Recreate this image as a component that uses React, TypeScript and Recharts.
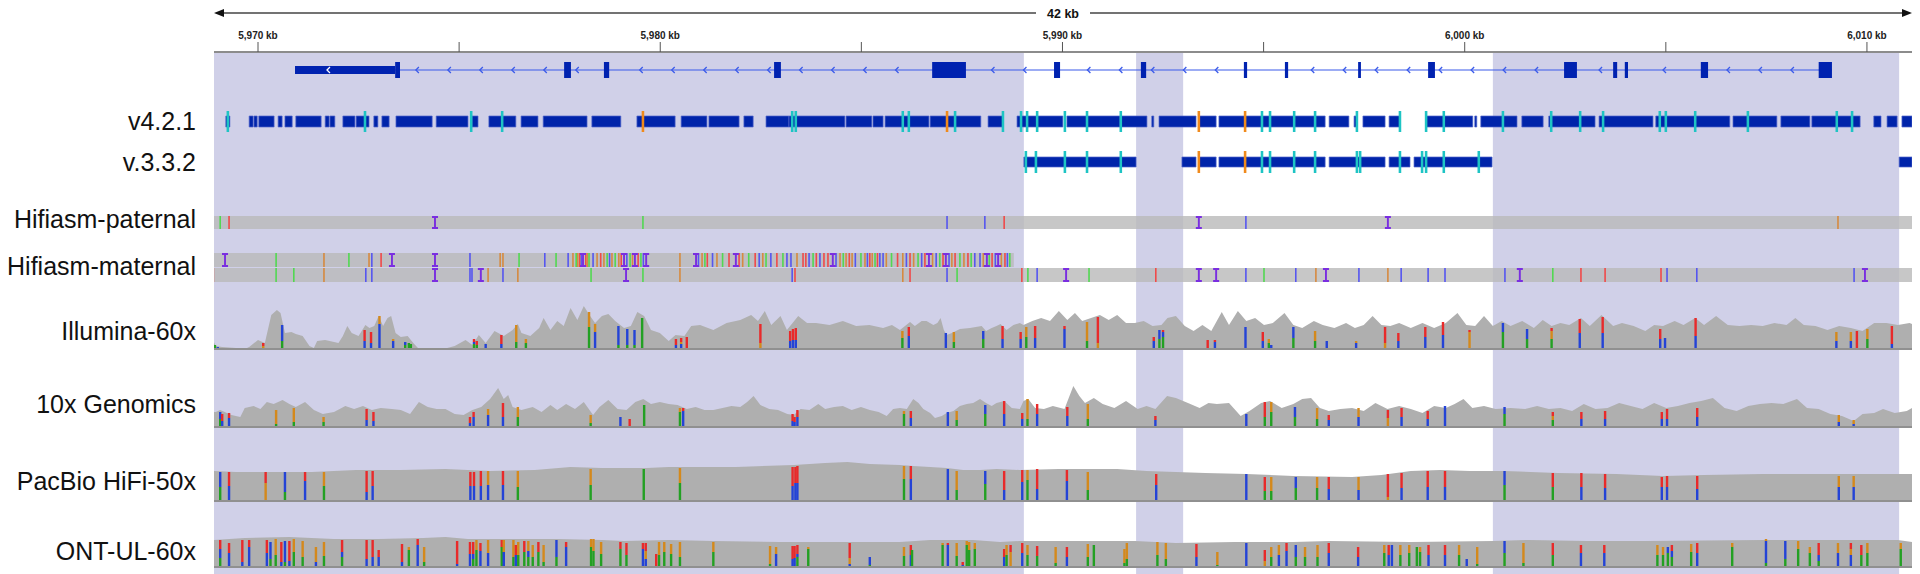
import React from 'react';
import { ComposedChart, Area, Scatter, XAxis, YAxis, ReferenceArea, ReferenceLine } from 'recharts';

const FONT = '"Liberation Sans", Arial, Helvetica, sans-serif';
const X0 = 5968.906;
const X1 = 6011.12;
const W = 1920;
const MARGIN = { top: 0, right: 8, bottom: 0, left: 214 };

// regions of interest (kb)
const roiRegions = [[5968.906, 5989.04], [5991.83, 5993.0], [6000.7, 6010.8]];
const rulerTicks = [5970, 5975, 5980, 5985, 5990, 5995, 6000, 6005, 6010];

const trackNames = ['v4.2.1', 'v.3.3.2', 'Hifiasm-paternal', 'Hifiasm-maternal', 'Illumina-60x', '10x Genomics', 'PacBio HiFi-50x', 'ONT-UL-60x'];

// gene model (kb)
const geneSpan = [5970.92, 6009.13];
const geneUtr = [[5970.92, 5973.41]];
const geneExons = [[5973.41, 5973.53], [5977.61, 5977.78], [5978.6, 5978.73], [5982.83, 5983.0], [5986.76, 5987.6], [5989.79, 5989.94], [5991.95, 5992.08], [5994.51, 5994.59], [5995.53, 5995.61], [5997.35, 5997.42], [5999.09, 5999.26], [6002.47, 6002.79], [6003.69, 6003.79], [6003.98, 6004.06], [6005.87, 6006.05], [6008.8, 6009.13]];

// assembly contig blocks and marks (c = cyan, o = orange)
const v421Blocks = [[5969.2, 5969.3], [5969.78, 5969.88], [5969.9, 5969.98], [5970.02, 5970.4], [5970.5, 5970.6], [5970.67, 5970.85], [5970.94, 5971.57], [5971.67, 5971.77], [5971.79, 5971.91], [5972.11, 5972.41], [5972.44, 5972.76], [5972.88, 5972.98], [5973.08, 5973.26], [5973.43, 5974.33], [5974.43, 5975.22], [5975.32, 5975.47], [5975.74, 5976.41], [5976.54, 5976.96], [5977.09, 5978.18], [5978.3, 5979.02], [5979.42, 5980.37], [5980.52, 5981.16], [5981.21, 5981.96], [5982.08, 5982.31], [5982.63, 5983.2], [5983.2, 5984.59], [5984.62, 5985.26], [5985.29, 5985.54], [5985.59, 5986.68], [5986.71, 5987.97], [5988.15, 5988.52], [5988.87, 5990.01], [5990.11, 5991.43], [5991.45, 5992.1], [5992.22, 5992.27], [5992.4, 5993.32], [5993.39, 5993.82], [5993.89, 5996.53], [5996.63, 5997.12], [5997.25, 5997.32], [5997.47, 5998.02], [5998.12, 5998.39], [5999.04, 6000.2], [6000.25, 6000.3], [6000.4, 6001.3], [6001.42, 6001.95], [6002.09, 6003.24], [6003.34, 6004.68], [6004.75, 6006.59], [6006.67, 6007.76], [6007.86, 6008.58], [6008.63, 6009.83], [6010.17, 6010.35], [6010.5, 6010.75], [6010.87, 6011.12]];
const v421Marks = [[5969.25, 'c'], [5972.66, 'c'], [5975.3, 'c'], [5976.07, 'c'], [5979.57, 'o'], [5983.28, 'c'], [5983.37, 'c'], [5986.03, 'c'], [5986.18, 'c'], [5987.13, 'o'], [5987.33, 'c'], [5988.52, 'c'], [5988.97, 'c'], [5989.12, 'c'], [5989.37, 'c'], [5990.06, 'c'], [5990.61, 'c'], [5991.45, 'c'], [5993.39, 'o'], [5994.54, 'o'], [5994.96, 'c'], [5995.16, 'c'], [5995.76, 'c'], [5996.28, 'c'], [5997.32, 'c'], [5998.39, 'c'], [5999.04, 'c'], [5999.48, 'c'], [6000.95, 'c'], [6002.15, 'c'], [6002.87, 'c'], [6003.44, 'c'], [6004.85, 'c'], [6005.0, 'c'], [6005.73, 'c'], [6007.04, 'c'], [6009.25, 'c'], [6009.63, 'c']];
const v332Blocks = [[5989.04, 5991.83], [5992.97, 5993.32], [5993.39, 5993.82], [5993.89, 5996.53], [5996.63, 5998.02], [5998.12, 5998.64], [5998.74, 6000.68], [6010.8, 6011.12]];
const v332Marks = [[5989.09, 'c'], [5989.34, 'c'], [5990.06, 'c'], [5990.61, 'c'], [5991.45, 'c'], [5993.39, 'o'], [5994.54, 'o'], [5994.96, 'c'], [5995.16, 'c'], [5995.76, 'c'], [5996.28, 'c'], [5997.32, 'c'], [5997.4, 'c'], [5998.39, 'c'], [5998.94, 'c'], [5999.04, 'c'], [5999.48, 'c'], [6000.35, 'c']];

// hifiasm contig variants (I = insertion)
const paternalSpan = [5968.83, 6011.12];
const paternalVariants = [[5969.06, 'A'], [5969.28, 'T'], [5974.4, 'I'], [5979.57, 'A'], [5987.13, 'C'], [5988.07, 'C'], [5988.55, 'T'], [5993.39, 'I'], [5994.56, 'C'], [5998.09, 'I'], [6009.28, 'G']];
const maternalTopSpan = [5968.83, 5988.79];
const maternalTopVariants = [[5969.18, 'I'], [5970.45, 'A'], [5971.64, 'G'], [5972.26, 'A'], [5972.76, 'G'], [5972.83, 'C'], [5973.06, 'T'], [5973.33, 'I'], [5974.4, 'I'], [5975.27, 'C'], [5976.02, 'G'], [5976.09, 'G'], [5976.49, 'A'], [5977.13, 'C'], [5977.41, 'A'], [5977.71, 'C'], [5977.83, 'G'], [5977.91, 'A'], [5977.95, 'G'], [5978.0, 'T'], [5978.04, 'C'], [5978.08, 'I'], [5978.15, 'T'], [5978.19, 'G'], [5978.23, 'A'], [5978.33, 'C'], [5978.43, 'G'], [5978.52, 'T'], [5978.6, 'G'], [5978.68, 'A'], [5978.74, 'C'], [5978.8, 'G'], [5978.88, 'A'], [5978.97, 'G'], [5979.03, 'T'], [5979.1, 'I'], [5979.17, 'C'], [5979.25, 'A'], [5979.31, 'G'], [5979.37, 'I'], [5979.45, 'T'], [5979.52, 'A'], [5979.58, 'C'], [5979.65, 'I'], [5980.49, 'G'], [5980.89, 'I'], [5980.95, 'C'], [5981.04, 'G'], [5981.11, 'A'], [5981.17, 'T'], [5981.3, 'C'], [5981.41, 'G'], [5981.55, 'A'], [5981.71, 'T'], [5981.88, 'I'], [5981.96, 'T'], [5982.05, 'G'], [5982.2, 'A'], [5982.36, 'T'], [5982.46, 'C'], [5982.55, 'G'], [5982.63, 'A'], [5982.75, 'C'], [5982.9, 'T'], [5983.05, 'A'], [5983.15, 'C'], [5983.25, 'C'], [5983.4, 'G'], [5983.55, 'T'], [5983.62, 'T'], [5983.7, 'C'], [5983.8, 'A'], [5983.88, 'T'], [5983.97, 'C'], [5984.07, 'T'], [5984.17, 'T'], [5984.29, 'I'], [5984.37, 'C'], [5984.47, 'G'], [5984.55, 'A'], [5984.62, 'G'], [5984.7, 'T'], [5984.77, 'G'], [5984.85, 'C'], [5984.99, 'A'], [5985.09, 'G'], [5985.15, 'C'], [5985.21, 'T'], [5985.27, 'G'], [5985.34, 'A'], [5985.4, 'T'], [5985.46, 'C'], [5985.54, 'C'], [5985.62, 'G'], [5985.75, 'A'], [5985.9, 'T'], [5986.03, 'G'], [5986.12, 'C'], [5986.21, 'T'], [5986.3, 'G'], [5986.41, 'A'], [5986.5, 'C'], [5986.58, 'T'], [5986.68, 'I'], [5986.77, 'G'], [5986.86, 'C'], [5986.95, 'A'], [5987.03, 'T'], [5987.1, 'I'], [5987.18, 'C'], [5987.25, 'G'], [5987.33, 'T'], [5987.45, 'A'], [5987.55, 'G'], [5987.65, 'T'], [5987.73, 'A'], [5987.82, 'C'], [5987.95, 'C'], [5988.03, 'G'], [5988.12, 'I'], [5988.18, 'A'], [5988.25, 'T'], [5988.33, 'C'], [5988.4, 'I'], [5988.48, 'G'], [5988.57, 'T'], [5988.63, 'C'], [5988.69, 'A']];
const maternalBottomSpan = [5968.83, 6011.12];
const maternalBottomVariants = [[5968.89, 'T'], [5970.45, 'A'], [5970.89, 'A'], [5971.64, 'G'], [5972.68, 'C'], [5972.83, 'C'], [5974.4, 'I'], [5975.27, 'C'], [5975.32, 'C'], [5975.54, 'I'], [5975.72, 'G'], [5976.09, 'C'], [5976.46, 'G'], [5978.28, 'A'], [5979.15, 'I'], [5979.57, 'A'], [5980.49, 'G'], [5983.28, 'C'], [5983.35, 'T'], [5986.03, 'G'], [5986.21, 'T'], [5987.13, 'C'], [5987.38, 'A'], [5988.99, 'T'], [5989.14, 'A'], [5989.37, 'C'], [5990.09, 'I'], [5990.66, 'A'], [5992.32, 'T'], [5993.39, 'I'], [5993.82, 'I'], [5994.56, 'C'], [5995.01, 'A'], [5995.8, 'C'], [5996.3, 'G'], [5996.55, 'I'], [5997.37, 'C'], [5998.09, 'G'], [5998.42, 'C'], [5999.09, 'C'], [5999.51, 'C'], [6001.0, 'C'], [6001.37, 'I'], [6002.19, 'A'], [6002.89, 'T'], [6003.49, 'T'], [6004.88, 'T'], [6005.03, 'C'], [6005.77, 'C'], [6009.68, 'C'], [6009.95, 'I']];

// coverage [kb, depth]
const illuminaCov = [[5968.87, 10], [5968.95, 3], [5969.11, 2], [5969.45, 1], [5969.67, 0], [5969.78, 2], [5970.0, 9], [5970.17, 6], [5970.33, 34], [5970.47, 39], [5970.56, 36], [5970.67, 16], [5970.83, 17], [5970.94, 15], [5971.11, 13], [5971.28, 3], [5971.39, 1], [5971.47, 8], [5971.67, 9], [5972.0, 6], [5972.11, 13], [5972.22, 23], [5972.33, 16], [5972.5, 13], [5972.67, 24], [5972.77, 21], [5972.89, 23], [5973.0, 33], [5973.11, 23], [5973.22, 31], [5973.31, 33], [5973.42, 16], [5973.55, 12], [5973.72, 13], [5973.86, 6], [5974.0, 0], [5974.61, 0], [5974.89, 3], [5975.16, 9], [5975.33, 4], [5975.49, 14], [5975.66, 6], [5975.88, 18], [5976.11, 13], [5976.33, 19], [5976.46, 25], [5976.55, 16], [5976.77, 13], [5976.99, 21], [5977.1, 31], [5977.27, 19], [5977.44, 28], [5977.6, 23], [5977.77, 41], [5977.94, 29], [5978.1, 43], [5978.24, 34], [5978.38, 26], [5978.55, 33], [5978.71, 35], [5978.88, 28], [5979.1, 21], [5979.27, 23], [5979.43, 37], [5979.6, 33], [5979.77, 19], [5979.99, 16], [5980.21, 8], [5980.38, 14], [5980.6, 13], [5980.77, 23], [5980.99, 24], [5981.32, 19], [5981.65, 26], [5981.99, 29], [5982.26, 34], [5982.43, 28], [5982.6, 38], [5982.76, 24], [5982.99, 33], [5983.15, 19], [5983.43, 33], [5983.65, 26], [5983.87, 26], [5984.21, 24], [5984.54, 28], [5984.87, 23], [5985.2, 24], [5985.54, 21], [5985.76, 24], [5985.96, 19], [5986.21, 27], [5986.33, 23], [5986.5, 28], [5986.62, 28], [5986.79, 24], [5986.89, 26], [5986.97, 31], [5987.05, 19], [5987.12, 14], [5987.25, 16], [5987.45, 20], [5987.7, 21], [5987.99, 23], [5988.1, 18], [5988.24, 21], [5988.36, 23], [5988.46, 25], [5988.61, 19], [5988.78, 24], [5988.94, 26], [5989.03, 24], [5989.25, 28], [5989.47, 31], [5989.69, 28], [5989.91, 38], [5990.12, 29], [5990.31, 36], [5990.49, 28], [5990.71, 31], [5990.93, 34], [5991.15, 29], [5991.36, 34], [5991.58, 26], [5991.8, 26], [5992.02, 28], [5992.24, 23], [5992.46, 24], [5992.61, 31], [5992.82, 33], [5993.04, 23], [5993.26, 18], [5993.48, 24], [5993.7, 18], [5993.96, 37], [5994.14, 24], [5994.36, 38], [5994.57, 28], [5994.79, 31], [5995.01, 24], [5995.23, 26], [5995.52, 36], [5995.74, 24], [5995.96, 21], [5996.25, 28], [5996.47, 24], [5996.76, 21], [5997.05, 26], [5997.27, 21], [5997.49, 24], [5997.71, 33], [5997.93, 24], [5998.15, 23], [5998.37, 26], [5998.66, 21], [5998.95, 26], [5999.24, 21], [5999.53, 26], [5999.82, 36], [6000.04, 24], [6000.26, 23], [6000.48, 33], [6000.7, 23], [6000.92, 28], [6001.14, 23], [6001.43, 28], [6001.72, 21], [6001.94, 29], [6002.16, 23], [6002.38, 26], [6002.6, 24], [6002.89, 31], [6003.11, 23], [6003.4, 34], [6003.69, 23], [6003.91, 26], [6004.2, 23], [6004.49, 18], [6004.71, 24], [6004.93, 23], [6005.22, 28], [6005.44, 24], [6005.73, 31], [6005.95, 24], [6006.25, 33], [6006.54, 24], [6006.83, 23], [6007.12, 24], [6007.41, 23], [6007.7, 26], [6008.0, 24], [6008.22, 31], [6008.43, 24], [6008.72, 23], [6009.02, 19], [6009.31, 23], [6009.6, 21], [6009.89, 18], [6010.18, 26], [6010.48, 26], [6010.77, 24], [6011.06, 26], [6011.12, 25]];
const tenxCov = [[5968.9, 15], [5968.95, 15], [5969.06, 17], [5969.34, 12], [5969.56, 10], [5969.67, 19], [5969.89, 21], [5970.06, 18], [5970.22, 25], [5970.39, 23], [5970.61, 27], [5970.78, 23], [5970.94, 20], [5971.17, 25], [5971.39, 17], [5971.61, 13], [5971.89, 15], [5972.17, 21], [5972.39, 18], [5972.61, 21], [5972.83, 17], [5973.05, 19], [5973.33, 18], [5973.55, 17], [5973.78, 13], [5974.0, 25], [5974.22, 20], [5974.44, 18], [5974.66, 18], [5974.89, 13], [5975.11, 12], [5975.33, 17], [5975.55, 20], [5975.77, 28], [5975.97, 39], [5976.11, 28], [5976.22, 32], [5976.33, 20], [5976.55, 17], [5976.83, 20], [5977.05, 15], [5977.27, 22], [5977.44, 17], [5977.66, 23], [5977.88, 18], [5978.1, 25], [5978.33, 12], [5978.49, 20], [5978.71, 27], [5978.94, 18], [5979.16, 17], [5979.38, 25], [5979.58, 28], [5979.77, 23], [5979.99, 25], [5980.21, 23], [5980.43, 22], [5980.66, 18], [5980.88, 20], [5981.1, 17], [5981.32, 17], [5981.55, 19], [5981.77, 21], [5981.99, 20], [5982.16, 25], [5982.32, 31], [5982.49, 22], [5982.71, 18], [5982.93, 17], [5983.16, 13], [5983.32, 12], [5983.49, 18], [5983.71, 17], [5983.93, 23], [5984.1, 18], [5984.32, 20], [5984.54, 21], [5984.76, 17], [5984.99, 20], [5985.21, 17], [5985.43, 15], [5985.63, 11], [5985.79, 18], [5985.96, 19], [5986.13, 18], [5986.29, 28], [5986.42, 24], [5986.54, 18], [5986.71, 14], [5986.83, 9], [5987.0, 11], [5987.12, 14], [5987.29, 16], [5987.45, 21], [5987.62, 23], [5987.78, 24], [5987.95, 28], [5988.1, 24], [5988.24, 21], [5988.36, 24], [5988.55, 26], [5988.74, 19], [5988.94, 18], [5989.03, 26], [5989.15, 28], [5989.32, 19], [5989.54, 18], [5989.76, 21], [5990.05, 18], [5990.27, 41], [5990.42, 31], [5990.56, 24], [5990.78, 29], [5991.0, 23], [5991.29, 19], [5991.58, 26], [5991.87, 18], [5992.09, 21], [5992.31, 18], [5992.6, 31], [5992.82, 29], [5993.12, 24], [5993.41, 19], [5993.63, 24], [5993.84, 23], [5994.14, 24], [5994.43, 11], [5994.65, 16], [5994.94, 24], [5995.16, 26], [5995.45, 19], [5995.74, 23], [5995.96, 28], [5996.18, 29], [5996.4, 19], [5996.62, 16], [5996.91, 18], [5997.2, 19], [5997.49, 16], [5997.78, 24], [5998.08, 18], [5998.37, 21], [5998.66, 18], [5998.95, 14], [5999.24, 21], [5999.53, 19], [5999.75, 23], [5999.97, 28], [6000.19, 19], [6000.48, 21], [6000.77, 18], [6001.14, 19], [6001.5, 18], [6001.8, 21], [6002.09, 18], [6002.38, 19], [6002.67, 16], [6002.96, 23], [6003.25, 18], [6003.55, 19], [6003.84, 24], [6004.13, 21], [6004.42, 18], [6004.71, 24], [6005.01, 19], [6005.3, 21], [6005.59, 24], [6005.88, 26], [6006.17, 29], [6006.46, 19], [6006.76, 16], [6007.05, 21], [6007.34, 23], [6007.63, 24], [6007.92, 23], [6008.26, 28], [6008.51, 19], [6008.8, 18], [6009.09, 13], [6009.38, 11], [6009.67, 6], [6009.89, 13], [6010.18, 14], [6010.4, 18], [6010.69, 14], [6010.99, 16], [6011.12, 19]];
const pacbioCov = [[5968.9, 30], [5969.45, 29], [5970.22, 29], [5971.33, 29], [5972.44, 31], [5973.55, 31], [5974.66, 32], [5975.77, 30], [5976.88, 31], [5977.77, 34], [5978.55, 33], [5979.66, 33], [5980.21, 34], [5981.88, 34], [5983.32, 36], [5984.1, 38], [5984.65, 39], [5985.21, 37], [5985.96, 36], [5986.29, 35], [5986.71, 34], [5987.12, 33], [5987.53, 31], [5987.95, 31], [5988.36, 32], [5988.94, 31], [5989.91, 32], [5991.36, 32], [5992.09, 30], [5992.82, 29], [5993.55, 28], [5994.57, 27], [5995.74, 25], [5997.2, 24], [5997.93, 26], [5998.66, 30], [5999.39, 31], [6000.12, 30], [6000.99, 30], [6002.31, 28], [6003.77, 27], [6004.93, 25], [6005.95, 26], [6007.41, 27], [6008.87, 27], [6010.33, 27], [6011.12, 27]];
const ontCov = [[5968.9, 27], [5969.67, 29], [5970.78, 30], [5971.89, 28], [5973.0, 28], [5974.11, 29], [5974.66, 30], [5975.22, 28], [5976.33, 28], [5977.44, 28], [5978.55, 27], [5979.1, 26], [5980.21, 27], [5981.32, 26], [5982.99, 25], [5984.65, 25], [5985.96, 25], [5986.71, 27], [5987.78, 27], [5988.45, 25], [5988.94, 26], [5990.63, 26], [5991.8, 26], [5992.82, 24], [5994.28, 25], [5995.74, 25], [5996.62, 26], [5998.66, 25], [6000.7, 26], [6001.58, 27], [6003.04, 26], [6004.49, 26], [6007.41, 27], [6008.87, 27], [6010.77, 27], [6011.12, 25]];

// mismatched bases [kb, A, C, G, T]
const illuminaSnv = [[5968.93, 4, 0, 0, 0], [5969.0, 0, 2, 0, 0], [5970.13, 0, 0, 3, 3], [5970.6, 8, 16, 0, 0], [5971.3, 0, 0, 0, 1], [5972.65, 0, 8, 0, 11], [5972.81, 0, 6, 0, 11], [5973.02, 0, 25, 8, 0], [5973.36, 0, 8, 2, 0], [5973.66, 4, 3, 0, 0], [5973.75, 6, 0, 0, 0], [5973.8, 5, 0, 0, 0], [5975.37, 5, 2, 0, 3], [5975.44, 4, 0, 0, 4], [5975.66, 0, 5, 0, 0], [5976.05, 0, 5, 0, 9], [5976.42, 7, 0, 17, 0], [5976.66, 6, 0, 4, 0], [5978.23, 22, 0, 15, 0], [5978.38, 0, 17, 8, 0], [5978.96, 4, 19, 0, 0], [5979.18, 4, 16, 0, 0], [5979.36, 4, 15, 0, 0], [5979.55, 31, 0, 0, 0], [5980.39, 0, 4, 0, 6], [5980.52, 0, 5, 2, 4], [5980.66, 0, 0, 0, 12], [5982.49, 0, 0, 6, 19], [5983.23, 0, 8, 0, 10], [5983.3, 0, 9, 0, 11], [5983.37, 0, 9, 0, 12], [5986.02, 11, 0, 7, 0], [5986.18, 0, 13, 0, 9], [5987.1, 0, 16, 0, 0], [5987.3, 7, 0, 10, 0], [5988.03, 10, 8, 0, 0], [5988.51, 0, 10, 0, 13], [5988.96, 0, 10, 0, 7], [5989.1, 12, 0, 10, 0], [5989.32, 0, 11, 0, 12], [5990.05, 0, 20, 0, 3], [5990.61, 8, 0, 19, 0], [5990.88, 0, 0, 6, 26], [5992.27, 0, 8, 0, 4], [5992.41, 10, 9, 0, 0], [5992.5, 12, 5, 0, 2], [5993.61, 0, 0, 0, 9], [5993.79, 0, 7, 0, 2], [5994.55, 0, 22, 0, 0], [5994.98, 0, 8, 0, 9], [5995.13, 6, 0, 4, 0], [5995.19, 0, 4, 0, 0], [5995.74, 11, 11, 0, 0], [5996.28, 8, 0, 10, 0], [5996.57, 0, 8, 0, 0], [5997.3, 0, 6, 2, 0], [5998.02, 0, 0, 6, 16], [5998.35, 0, 8, 0, 8], [5999.02, 0, 12, 0, 10], [5999.46, 0, 14, 0, 13], [6000.12, 0, 0, 17, 2], [6000.95, 17, 9, 0, 0], [6001.55, 10, 10, 0, 0], [6002.16, 10, 0, 8, 3], [6002.86, 0, 16, 0, 14], [6003.43, 0, 16, 0, 16], [6004.86, 0, 10, 0, 10], [6004.98, 0, 11, 0, 0], [6005.74, 0, 13, 0, 18], [6009.24, 0, 8, 9, 0], [6009.6, 0, 8, 9, 0], [6009.75, 0, 0, 0, 18], [6010.01, 10, 0, 10, 0], [6010.62, 0, 5, 0, 18]];
const tenxSnv = [[5969.06, 8, 7, 0, 0], [5969.11, 0, 6, 0, 7], [5969.28, 0, 9, 0, 5], [5970.45, 3, 0, 14, 0], [5970.89, 5, 0, 14, 0], [5971.63, 5, 0, 5, 0], [5972.7, 0, 7, 0, 11], [5972.87, 0, 6, 0, 9], [5975.27, 0, 4, 0, 6], [5975.36, 0, 10, 0, 5], [5975.72, 0, 12, 6, 0], [5976.09, 0, 10, 0, 14], [5976.46, 10, 0, 10, 0], [5978.27, 4, 0, 8, 0], [5979.01, 0, 10, 0, 0], [5979.24, 0, 0, 0, 8], [5979.6, 22, 0, 0, 0], [5980.49, 15, 0, 4, 0], [5980.57, 0, 16, 0, 3], [5983.29, 0, 6, 0, 7], [5983.34, 0, 5, 0, 5], [5983.41, 0, 10, 0, 7], [5986.06, 13, 0, 3, 0], [5986.23, 0, 9, 0, 7], [5987.15, 0, 15, 0, 0], [5987.37, 7, 0, 9, 0], [5988.08, 13, 9, 0, 0], [5988.55, 0, 13, 0, 13], [5989.0, 0, 8, 0, 6], [5989.13, 8, 0, 20, 0], [5989.37, 0, 13, 0, 10], [5990.12, 0, 11, 0, 9], [5990.63, 8, 0, 15, 0], [5992.31, 0, 7, 0, 4], [5994.57, 0, 13, 0, 0], [5995.03, 10, 0, 0, 15], [5995.19, 15, 0, 10, 0], [5995.78, 10, 10, 0, 0], [5996.33, 8, 0, 11, 0], [5996.62, 0, 7, 0, 5], [5997.36, 0, 10, 9, 0], [5998.09, 0, 0, 9, 8], [5998.43, 0, 10, 0, 9], [5999.08, 0, 8, 0, 8], [5999.51, 0, 21, 0, 0], [6000.99, 13, 7, 0, 0], [6002.19, 7, 0, 4, 4], [6002.9, 0, 8, 0, 7], [6003.49, 0, 8, 0, 8], [6004.9, 0, 8, 0, 7], [6005.03, 0, 8, 0, 10], [6005.78, 0, 10, 0, 9], [6009.3, 0, 5, 7, 0], [6009.67, 0, 3, 4, 0]];
const pacbioSnv = [[5969.06, 14, 15, 0, 0], [5969.28, 0, 15, 0, 14], [5970.19, 0, 0, 18, 11], [5970.67, 9, 20, 0, 0], [5971.17, 0, 20, 0, 9], [5971.64, 15, 0, 14, 0], [5972.7, 0, 9, 0, 21], [5972.85, 0, 15, 0, 15], [5975.28, 0, 15, 0, 14], [5975.37, 0, 15, 0, 14], [5975.54, 0, 15, 0, 15], [5975.72, 0, 16, 14, 0], [5976.09, 0, 16, 0, 14], [5976.46, 14, 0, 16, 0], [5978.27, 16, 0, 16, 0], [5979.59, 32, 0, 0, 0], [5980.49, 18, 0, 15, 0], [5983.29, 0, 15, 0, 19], [5983.36, 0, 18, 0, 16], [5983.41, 0, 18, 0, 17], [5986.06, 22, 0, 13, 0], [5986.23, 0, 22, 0, 13], [5987.15, 0, 32, 0, 0], [5987.37, 11, 0, 19, 0], [5988.08, 17, 13, 0, 0], [5988.55, 0, 11, 0, 19], [5989.0, 0, 19, 0, 12], [5989.13, 21, 0, 10, 0], [5989.37, 0, 12, 0, 20], [5990.11, 0, 20, 0, 11], [5990.63, 11, 0, 18, 0], [5992.33, 0, 16, 0, 11], [5994.57, 0, 27, 0, 0], [5995.03, 10, 0, 0, 14], [5995.19, 10, 0, 14, 0], [5995.8, 13, 11, 0, 0], [5996.33, 13, 0, 11, 0], [5996.62, 0, 12, 0, 12], [5997.36, 0, 11, 13, 0], [5998.09, 0, 0, 4, 23], [5998.43, 0, 13, 0, 15], [5999.08, 0, 14, 0, 16], [5999.51, 0, 14, 0, 16], [6000.99, 16, 14, 0, 0], [6002.19, 14, 0, 0, 14], [6002.9, 0, 14, 0, 14], [6003.49, 0, 13, 0, 14], [6004.9, 0, 14, 0, 10], [6005.03, 0, 14, 0, 11], [6005.78, 0, 12, 0, 13], [6009.3, 0, 14, 11, 0], [6009.67, 0, 14, 11, 0]];
const ontSnv = [[5969.06, 9, 9, 0, 9], [5969.28, 0, 14, 0, 10], [5969.61, 0, 5, 0, 22], [5969.78, 0, 20, 0, 7], [5970.22, 0, 14, 0, 13], [5970.31, 8, 17, 0, 0], [5970.44, 12, 0, 16, 0], [5970.58, 0, 5, 0, 20], [5970.67, 5, 21, 0, 0], [5970.78, 0, 6, 0, 20], [5970.89, 15, 0, 13, 0], [5971.11, 10, 0, 16, 0], [5971.44, 0, 5, 15, 0], [5971.64, 11, 0, 14, 0], [5972.09, 10, 5, 0, 12], [5972.7, 0, 8, 0, 19], [5972.85, 0, 10, 0, 17], [5973.0, 0, 10, 0, 7], [5973.58, 0, 5, 0, 18], [5973.75, 17, 0, 3, 0], [5973.97, 0, 22, 0, 6], [5974.13, 5, 0, 15, 0], [5974.95, 0, 3, 0, 23], [5975.27, 0, 13, 0, 12], [5975.35, 8, 5, 0, 12], [5975.43, 17, 0, 10, 0], [5975.53, 0, 16, 0, 8], [5975.72, 0, 14, 13, 0], [5976.06, 20, 0, 0, 7], [5976.11, 0, 15, 12, 0], [5976.35, 10, 0, 17, 0], [5976.41, 0, 12, 0, 10], [5976.47, 12, 0, 13, 0], [5976.62, 15, 0, 0, 11], [5976.72, 10, 6, 10, 0], [5976.83, 10, 0, 12, 0], [5976.97, 15, 0, 0, 10], [5977.1, 5, 0, 17, 0], [5977.42, 10, 17, 0, 0], [5977.66, 0, 20, 0, 5], [5978.28, 20, 0, 8, 0], [5978.34, 16, 0, 12, 0], [5978.53, 13, 0, 12, 0], [5979.01, 18, 0, 0, 7], [5979.16, 12, 0, 0, 12], [5979.57, 0, 18, 0, 6], [5979.64, 0, 8, 8, 8], [5979.9, 0, 0, 0, 13], [5979.97, 12, 0, 13, 0], [5980.1, 15, 0, 10, 0], [5980.27, 13, 0, 10, 0], [5980.49, 10, 0, 15, 0], [5981.32, 15, 0, 10, 0], [5982.73, 3, 0, 18, 0], [5982.88, 0, 13, 7, 0], [5983.29, 0, 8, 0, 13], [5983.34, 0, 9, 0, 12], [5983.41, 10, 3, 0, 9], [5983.68, 18, 0, 2, 0], [5984.71, 0, 3, 6, 15], [5985.21, 2, 8, 0, 0], [5986.06, 11, 0, 9, 0], [5986.23, 0, 12, 0, 10], [5986.26, 17, 0, 0, 0], [5987.02, 22, 0, 2, 0], [5987.15, 0, 22, 0, 2], [5987.37, 11, 0, 13, 0], [5987.52, 0, 2, 0, 3], [5987.62, 22, 0, 4, 0], [5987.68, 17, 0, 8, 0], [5987.82, 18, 0, 6, 0], [5988.55, 0, 10, 0, 8], [5988.61, 12, 0, 10, 0], [5988.71, 0, 0, 15, 7], [5989.0, 0, 14, 0, 10], [5989.13, 12, 0, 10, 0], [5989.37, 11, 0, 0, 10], [5989.83, 4, 0, 16, 0], [5990.11, 0, 10, 0, 10], [5990.63, 10, 0, 13, 0], [5990.78, 22, 0, 0, 0], [5991.54, 4, 0, 14, 0], [5991.6, 8, 0, 16, 0], [5992.36, 12, 0, 13, 0], [5992.57, 8, 0, 16, 0], [5993.33, 0, 10, 0, 13], [5993.85, 2, 0, 13, 0], [5994.57, 0, 24, 0, 0], [5995.03, 0, 0, 6, 11], [5995.19, 10, 0, 10, 0], [5995.38, 0, 12, 10, 0], [5995.57, 0, 16, 0, 8], [5995.8, 10, 12, 0, 0], [5996.03, 10, 0, 10, 0], [5996.34, 10, 0, 12, 0], [5996.62, 0, 14, 0, 10], [5997.35, 0, 10, 0, 10], [5998.0, 14, 0, 8, 0], [5998.11, 0, 12, 0, 10], [5998.19, 0, 22, 0, 0], [5998.4, 12, 0, 10, 0], [5998.62, 14, 0, 8, 0], [5998.81, 20, 0, 0, 0], [5998.89, 15, 0, 5, 0], [5999.1, 0, 12, 0, 10], [5999.51, 0, 12, 0, 10], [5999.86, 12, 0, 10, 0], [6000.05, 0, 8, 0, 0], [6000.31, 3, 0, 17, 0], [6000.99, 14, 12, 0, 0], [6001.46, 4, 0, 20, 0], [6002.19, 12, 0, 0, 12], [6002.89, 0, 14, 0, 8], [6003.47, 0, 14, 0, 8], [6004.79, 12, 0, 10, 0], [6004.93, 12, 0, 8, 0], [6005.05, 14, 6, 0, 0], [6005.15, 10, 6, 0, 6], [6005.63, 15, 0, 8, 0], [6005.78, 0, 14, 0, 10], [6006.65, 20, 0, 4, 0], [6007.49, 4, 22, 2, 0], [6007.97, 8, 18, 0, 0], [6008.29, 18, 0, 8, 0], [6008.58, 14, 0, 6, 0], [6008.8, 6, 6, 0, 12], [6009.28, 0, 14, 10, 0], [6009.6, 0, 12, 6, 6], [6009.86, 12, 0, 0, 10], [6010.01, 14, 0, 10, 0], [6010.84, 18, 0, 6, 0]];

// colours
const ROI_FILL = '#d0d0e8';
const BASES = ['A', 'C', 'G', 'T'];
const covBaseColor: Record<string, string> = { A: '#23a023', C: '#2443d6', G: '#d4891c', T: '#e82a2a' };
const ctgBaseColor: Record<string, string> = { A: '#52d852', C: '#5656f0', G: '#d68a40', T: '#f04a4a' };
const markColor: Record<string, string> = { c: '#1ec4c4', o: '#f08a1c' };
const INS_COLOR = '#7a2ee0';
const CONTIG_BLUE = '#0024aa';
const GENE_BLUE = '#0022b0';
const GENE_LINE = '#3b5bea';

const GENE_Y = 30;
const chevronStep = 0.795;
const chevronStart = 5973.95;
const chevrons: { kb: number; y: number }[] = [];
for (let p = chevronStart; p < geneSpan[1]; p += chevronStep) {
  if (!geneExons.some(([a, b]) => p > a - 0.12 && p < b + 0.12)) chevrons.push({ kb: p, y: GENE_Y });
}
const utrChevrons = [{ kb: 5971.74, y: GENE_Y }];

const kbFmt = (v: number) => (v % 10 === 0 ? `${v.toLocaleString('en-US')} kb` : '');

const rect = (key: string, x1: number, x2: number, y1: number, y2: number, fill: string, z = 150, extra: any = {}) => (
  <ReferenceArea key={key} x1={x1} x2={x2} y1={y1} y2={y2} fill={fill} fillOpacity={1} stroke="none" ifOverflow="hidden" zIndex={z} {...extra} />
);

const shade = () =>
  roiRegions.map(([a, b], i) => (
    <ReferenceArea key={`roi${i}`} x1={a} x2={b} fill={ROI_FILL} fillOpacity={1} stroke="none" ifOverflow="hidden" zIndex={-10} />
  ));

const snvBars = (list: number[][], id: string) =>
  list.flatMap(([kb, ...counts], i) => {
    let y = 0;
    const out: React.ReactNode[] = [];
    counts.forEach((n, j) => {
      if (n > 0) out.push(rect(`${id}${i}-${j}`, kb - 0.03, kb + 0.03, y, y + n, covBaseColor[BASES[j]], 200));
      y += n;
    });
    return out;
  });

const variantMarks = (list: (number | string)[][], y1: number, y2: number, id: string) =>
  list.flatMap(([kb, b], i) => {
    const x = kb as number;
    if (b === 'I') {
      return [
        rect(`${id}i${i}s`, x - 0.024, x + 0.024, y1, y2, INS_COLOR, 130),
        rect(`${id}i${i}t`, x - 0.075, x + 0.075, y2 - 2, y2, INS_COLOR, 130),
        rect(`${id}i${i}b`, x - 0.075, x + 0.075, y1, y1 + 2, INS_COLOR, 130),
      ];
    }
    return [rect(`${id}v${i}`, x - 0.02, x + 0.02, y1, y2, ctgBaseColor[b as string], 120)];
  });

const RulerSpan = (props: any) => {
  const vb = props.viewBox || {};
  const x = vb.x ?? 214;
  const w = vb.width ?? 1698;
  const y = (vb.y ?? 0) + 13;
  const mid = x + w / 2;
  return (
    <g>
      <line x1={x + 9} x2={mid - 27} y1={y} y2={y} stroke="#444" strokeWidth={1.6} />
      <line x1={mid + 27} x2={x + w - 9} y1={y} y2={y} stroke="#444" strokeWidth={1.6} />
      <polygon points={`${x},${y} ${x + 10},${y - 4} ${x + 10},${y + 4}`} fill="#111" />
      <polygon points={`${x + w},${y} ${x + w - 10},${y - 4} ${x + w - 10},${y + 4}`} fill="#111" />
      <text x={mid} y={y + 4.5} textAnchor="middle" fontSize={12.5} fontWeight={700} fontFamily={FONT} fill="#111">
        {`${Math.round(X1 - X0)} kb`}
      </text>
    </g>
  );
};

const Chevron = (color: string) => (p: any) => (
  <polyline points={`${p.cx + 2},${p.cy - 3} ${p.cx - 1},${p.cy} ${p.cx + 2},${p.cy + 3}`} stroke={color} strokeWidth={1.3} fill="none" />
);

const Row: React.FC<{ height: number; label?: string; baseline?: number; children: React.ReactNode }> = ({ height, label, baseline = 0, children }) => (
  <div style={{ position: 'relative', width: W, height }}>
    {children}
    {label && (
      <div style={{ position: 'absolute', left: 0, width: 196, top: baseline - 21, textAlign: 'right', fontFamily: FONT, fontSize: 25, lineHeight: '25px', color: '#111', whiteSpace: 'nowrap' }}>
        {label}
      </div>
    )}
  </div>
);

const hiddenX = <XAxis key="x" type="number" dataKey="kb" domain={[X0, X1]} allowDataOverflow hide />;
const hiddenY = (lo: number, hi: number) => <YAxis key="y" type="number" domain={[lo, hi]} allowDataOverflow hide />;

const CoverageTrack: React.FC<{ cov: number[][]; snv: number[][]; height: number; lo: number; id: string }> = ({ cov, snv, height, lo, id }) => (
  <ComposedChart width={W} height={height} margin={MARGIN} data={cov.map(([kb, c]) => ({ kb, cov: c }))}>
    {hiddenX}
    {hiddenY(lo, lo + height)}
    {shade()}
    <Area type="linear" dataKey="cov" baseValue={0} fill="#afafaf" fillOpacity={1} stroke="none" isAnimationActive={false} zIndex={100} />
    {snvBars(snv, id)}
    <ReferenceLine y={0} stroke="#909090" strokeWidth={2} ifOverflow="hidden" zIndex={300} />
  </ComposedChart>
);

export default function App() {
  return (
    <div style={{ width: W, height: 574, background: '#fff', overflow: 'hidden' }}>
      <style>{'body{margin:0}'}</style>

      {/* ruler + gene */}
      <Row height={100}>
        <ComposedChart width={W} height={100} margin={MARGIN} data={chevrons}>
          <XAxis
            type="number"
            dataKey="kb"
            domain={[X0, X1]}
            allowDataOverflow
            orientation="top"
            height={52}
            ticks={rulerTicks}
            interval={0}
            tickSize={10}
            tickMargin={3}
            tickFormatter={kbFmt}
            axisLine={{ stroke: '#8c8c8c', strokeWidth: 2 }}
            tickLine={{ stroke: '#555' }}
            tick={{ fontSize: 10, fontWeight: 700, fill: '#222', fontFamily: FONT }}
            label={RulerSpan}
          />
          <YAxis type="number" dataKey="y" domain={[0, 48]} allowDataOverflow hide />
          {shade()}
          {rect('gline', geneSpan[0], geneSpan[1], GENE_Y - 0.6, GENE_Y + 0.6, GENE_LINE, 100)}
          {geneUtr.map(([a, b], i) => rect(`utr${i}`, a, b, GENE_Y - 4, GENE_Y + 4, GENE_BLUE, 110))}
          {geneExons.map(([a, b], i) => rect(`ex${i}`, a, b, GENE_Y - 8, GENE_Y + 8, GENE_BLUE, 110))}
          <Scatter data={chevrons} dataKey="y" shape={Chevron(GENE_LINE)} isAnimationActive={false} />
          <Scatter data={utrChevrons} dataKey="y" shape={Chevron('#ffffff')} isAnimationActive={false} />
        </ComposedChart>
      </Row>

      {/* v4.2.1 */}
      <Row height={40} label={trackNames[0]} baseline={30}>
        <ComposedChart width={W} height={40} margin={MARGIN} data={v421Blocks.map(([a]) => ({ kb: a }))}>
          {hiddenX}
          {hiddenY(0, 40)}
          {shade()}
          {v421Blocks.map(([a, b], i) => rect(`b${i}`, a, b, 13, 24, CONTIG_BLUE, 110, { stroke: '#5166cc', strokeWidth: 0.7 }))}
          {v421Marks.map(([kb, c], i) => rect(`m${i}`, (kb as number) - 0.032, (kb as number) + 0.032, 8, 29, markColor[c as string], 120))}
        </ComposedChart>
      </Row>

      {/* v.3.3.2 */}
      <Row height={50} label={trackNames[1]} baseline={31}>
        <ComposedChart width={W} height={50} margin={MARGIN} data={v332Blocks.map(([a]) => ({ kb: a }))}>
          {hiddenX}
          {hiddenY(0, 50)}
          {shade()}
          {v332Blocks.map(([a, b], i) => rect(`b${i}`, a, b, 23, 33, CONTIG_BLUE, 110, { stroke: '#5166cc', strokeWidth: 0.7 }))}
          {v332Marks.map(([kb, c], i) => rect(`m${i}`, (kb as number) - 0.032, (kb as number) + 0.032, 17, 39, markColor[c as string], 120))}
        </ComposedChart>
      </Row>

      {/* Hifiasm paternal */}
      <Row height={50} label={trackNames[2]} baseline={38}>
        <ComposedChart width={W} height={50} margin={MARGIN} data={paternalVariants.map(([kb]) => ({ kb }))}>
          {hiddenX}
          {hiddenY(0, 50)}
          {shade()}
          {rect('pbar', paternalSpan[0], paternalSpan[1], 11, 24, '#b9b9b9', 110, { fillOpacity: 0.8 })}
          {variantMarks(paternalVariants, 11, 24, 'p')}
        </ComposedChart>
      </Row>

      {/* Hifiasm maternal */}
      <Row height={50} label={trackNames[3]} baseline={35}>
        <ComposedChart width={W} height={50} margin={MARGIN} data={maternalBottomVariants.map(([kb]) => ({ kb }))}>
          {hiddenX}
          {hiddenY(0, 50)}
          {shade()}
          {rect('mbar1', maternalTopSpan[0], maternalTopSpan[1], 23, 37, '#b9b9b9', 110, { fillOpacity: 0.8 })}
          {rect('mbar2', maternalBottomSpan[0], maternalBottomSpan[1], 8, 22, '#b9b9b9', 110, { fillOpacity: 0.8 })}
          {variantMarks(maternalTopVariants, 23, 37, 'mt')}
          {variantMarks(maternalBottomVariants, 8, 22, 'mb')}
        </ComposedChart>
      </Row>

      <Row height={62} label={trackNames[4]} baseline={50}>
        <CoverageTrack cov={illuminaCov} snv={illuminaSnv} height={62} lo={-3} id="il" />
      </Row>
      <Row height={77} label={trackNames[5]} baseline={61}>
        <CoverageTrack cov={tenxCov} snv={tenxSnv} height={77} lo={-2} id="tx" />
      </Row>
      <Row height={74} label={trackNames[6]} baseline={61}>
        <CoverageTrack cov={pacbioCov} snv={pacbioSnv} height={74} lo={-2} id="pb" />
      </Row>
      <Row height={71} label={trackNames[7]} baseline={57}>
        <CoverageTrack cov={ontCov} snv={ontSnv} height={71} lo={-7} id="ont" />
      </Row>
    </div>
  );
}
